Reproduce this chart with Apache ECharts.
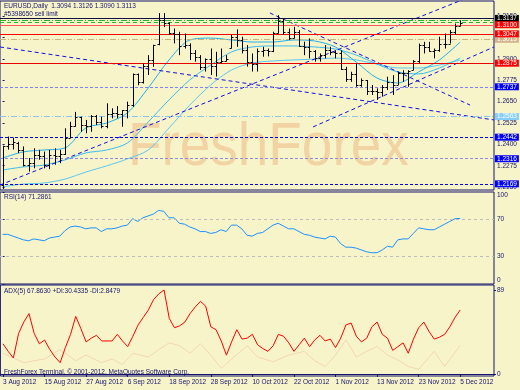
<!DOCTYPE html>
<html><head><meta charset="utf-8">
<script src="https://cdn.jsdelivr.net/npm/echarts@6/dist/echarts.min.js"></script>
<style>html,body{margin:0;padding:0;background:#f8f4c9}#c{width:520px;height:390px}</style>
</head><body><div id="c"></div><script>
// ---- dates (business days) ----
const augDays = [3,6,7,8,9,10,13,14,15,16,17,20,21,22,23,24,27,28,29,30,31];
const sepDays = [3,4,5,6,7,10,11,12,13,14,17,18,19,20,21,24,25,26,27,28];
const octDays = [1,2,3,4,5,8,9,10,11,12,15,16,17,18,19,22,23,24,25,26,29,30,31];
const novDays = [1,2,5,6,7,8,9,12,13,14,15,16,19,20,21,22,23,26,27,28,29,30];
const decDays = [3,4,5];
const emptySlots = 6;

// ---- OHLC ----
const opens = [1.2165,1.2388,1.2404,1.2408,1.2365,1.2282,1.2290,1.2335,1.2330,1.2280,1.2340,1.2330,1.2345,1.2440,1.2510,1.2560,1.2515,1.2510,1.2565,1.2530,
1.2510,1.2580,1.2585,1.2575,1.2600,1.2630,1.2810,1.2765,1.2860,1.2895,1.2985,1.3130,1.3110,1.3050,1.3045,1.2975,1.2980,1.2935,1.2910,1.2850,
1.2900,1.2860,1.2880,1.2890,1.2965,1.3030,1.3010,1.2955,1.2880,1.2870,1.2945,1.2950,1.2945,1.3050,1.3120,1.3060,1.3025,1.3060,1.2975,1.2970,
1.2945,1.2905,1.2925,1.2950,1.2940,1.2935,1.2840,1.2780,1.2810,1.2745,1.2775,1.2710,1.2715,1.2705,1.2735,1.2765,1.2750,1.2815,1.2820,1.2834,
1.2885,1.2980,1.2970,1.2945,1.2955,1.2985,1.2990,1.3060,1.3094];
const highs = [1.2392,1.2446,1.2440,1.2415,1.2388,1.2320,1.2377,1.2368,1.2358,1.2368,1.2377,1.2368,1.2494,1.2532,1.2590,1.2562,1.2543,1.2572,1.2572,1.2562,
1.2640,1.2611,1.2624,1.2601,1.2650,1.2815,1.2815,1.2873,1.2922,1.2983,1.3168,1.3168,1.3115,1.3078,1.3059,1.3049,1.2991,1.2952,1.2922,1.2903,
1.2961,1.2942,1.2961,1.2922,1.3040,1.3073,1.3030,1.2981,1.2932,1.2961,1.2971,1.2961,1.3059,1.3156,1.3136,1.3078,1.3088,1.3069,1.3001,1.3020,
1.2952,1.2932,1.2981,1.2971,1.2951,1.2951,1.2854,1.2825,1.2873,1.2786,1.2776,1.2747,1.2728,1.2747,1.2796,1.2805,1.2825,1.2834,1.2834,1.2893,
1.2990,1.3000,1.3000,1.2961,1.3030,1.3049,1.3069,1.3107,1.3126];
const lows = [1.2139,1.2369,1.2370,1.2349,1.2271,1.2241,1.2260,1.2310,1.2260,1.2255,1.2281,1.2290,1.2338,1.2436,1.2503,1.2474,1.2465,1.2474,1.2513,1.2494,
1.2494,1.2552,1.2552,1.2503,1.2552,1.2620,1.2746,1.2756,1.2806,1.2854,1.2980,1.3086,1.3040,1.2991,1.2922,1.2961,1.2893,1.2884,1.2835,1.2826,
1.2806,1.2797,1.2874,1.2885,1.2961,1.2971,1.2932,1.2855,1.2826,1.2826,1.2913,1.2915,1.2940,1.3049,1.3040,1.3011,1.3020,1.2971,1.2922,1.2903,
1.2884,1.2884,1.2903,1.2922,1.2903,1.2835,1.2766,1.2766,1.2737,1.2737,1.2689,1.2689,1.2660,1.2679,1.2718,1.2689,1.2747,1.2766,1.2737,1.2834,
1.2873,1.2932,1.2942,1.2903,1.2942,1.2961,1.2990,1.3040,1.3090];
const closes = [1.2388,1.2404,1.2411,1.2365,1.2282,1.2290,1.2335,1.2330,1.2280,1.2340,1.2330,1.2345,1.2440,1.2510,1.2560,1.2515,1.2510,1.2565,1.2530,1.2510,
1.2580,1.2585,1.2575,1.2600,1.2630,1.2810,1.2765,1.2860,1.2895,1.2980,1.3130,1.3110,1.3050,1.3045,1.2975,1.2980,1.2935,1.2910,1.2850,1.2900,
1.2860,1.2880,1.2890,1.2900,1.3030,1.3010,1.2955,1.2880,1.2870,1.2945,1.2950,1.2945,1.3050,1.3120,1.3060,1.3025,1.3060,1.2975,1.2970,1.2945,
1.2905,1.2925,1.2950,1.2940,1.2935,1.2840,1.2780,1.2810,1.2745,1.2775,1.2710,1.2715,1.2705,1.2735,1.2765,1.2750,1.2815,1.2820,1.2830,1.2885,
1.2980,1.2970,1.2945,1.2955,1.2985,1.2990,1.3060,1.3094,1.3113];

// ---- moving averages (read at every 4th bar) ----
const maIdx = [0,4,8,12,16,20,24,28,32,36,40,44,48,52,56,60,64,68,72,76,80,84,88];
const maFast = [1.2320,1.2356,1.2367,1.2379,1.2496,1.2525,1.2584,1.2730,1.2894,1.3011,1.3022,1.3011,1.2999,1.2999,1.3011,1.3005,1.2970,1.2882,1.2788,1.2759,1.2824,1.2894,1.2999];
const maMid = [1.2250,1.2268,1.2279,1.2309,1.2350,1.2367,1.2408,1.2531,1.2660,1.2777,1.2864,1.2941,1.2970,1.2976,1.2976,1.2970,1.2958,1.2923,1.2870,1.2824,1.2812,1.2847,1.2905];
const maSlow = [1.2151,1.2168,1.2174,1.2197,1.2238,1.2274,1.2315,1.2367,1.2496,1.2630,1.2747,1.2835,1.2876,1.2888,1.2894,1.2899,1.2905,1.2894,1.2870,1.2847,1.2847,1.2864,1.2894];

// ---- trend lines [barIndex, price] ----
const trendA = [[-0.5,1.2970],[94.5,1.2543]];
const trendB = [[-0.5,1.2162],[88.35,1.3245]];
const trendC = [[51.4,1.3169],[89.9,1.2630]];
const trendD = [[59.7,1.2502],[94.5,1.2970]];

// ---- horizontal levels ----
const orderLevel = 1.3137;
const greenLevels = [1.3124, 1.3112];
const redLevels = [1.3100, 1.3047, 1.2875];
const blueLevels = [1.2737, 1.2442, 1.2316, 1.2169];
const lightBlueLevels = [1.3090, 1.2563];
const tanLevels = [1.3015];
const priceTicks = [1.2150,1.2275,1.2400,1.2525,1.2650,1.2775,1.2900,1.3025,1.3150];

// ---- RSI(14) ----
const rsi = [54,54,52,50,48,47,49,48,47,50,51,52,58,62,63,62,60,61,61,57,
60,60,61,63,64,71,68,72,74,76,80,79,72,72,66,65,62,60,57,57,
55,56,59,57,64,64,60,53,52,55,56,60,64,66,63,60,60,57,54,53,
51,50,49,52,51,44,40,40,39,37,35,34,34,37,41,40,48,49,49,55,
61,60,59,59,62,65,68,71,71.29];
const rsiLevels = [70, 30];
const rsiTicks = [0,30,70,100];

// ---- ADX(5) ----
const adx = [32,24,17,43,55,64,43,32,36,26,18,12,28,42,61,48,34,38,41,35,
35,35,42,35,29,40,52,60,68,79,85,89,59,49,51,55,64,71,77,72,
50,47,35,20,34,47,37,38,42,31,27,24,30,42,40,33,24,31,38,29,
36,41,35,37,28,38,52,54,40,34,38,50,55,42,38,25,29,33,22,37,
49,55,45,37,39,42,50,60,67.86];
const diIdx = [0,4,8,11,14,16,19,21,23,25,28,30,32,34,36,38,40,42,44,47,49,52,55,58,60,62,64,66,68,70,72,74,76,78,80,83,85,88];
const diPlus = [22,12,16,26,14,20,12,16,10,22,18,26,33,30,22,32,20,6,16,30,18,13,20,24,14,8,20,36,18,24,29,20,15,8,5,24,8,30.43];
const adxTicks = [0, 89];

// ---- texts ----
const titleText = 'EURUSD,Daily  1.3094 1.3126 1.3090 1.3113';
const orderText = '#5398650 sell limit';
const rsiText = 'RSI(14) 71.2861';
const adxText = 'ADX(5) 67.8630 +DI:30.4335 -DI:2.8479';
const footerText = 'FreshForex Terminal, \u00a9 2001-2012, MetaQuotes Software Corp.';
const watermark = 'FreshForex';

// build categories
const mk = (days, m) => days.map(d => d + ' ' + m + ' 2012');
const dates = [].concat(mk(augDays,'Aug'), mk(sepDays,'Sep'), mk(octDays,'Oct'), mk(novDays,'Nov'), mk(decDays,'Dec'));
const categories = dates.concat(new Array(emptySlots).fill(''));
const NB = dates.length;

const navy = '#14146e';
const FF = '"Liberation Sans", Arial, sans-serif';
const FS = 6.5;

const ohlcData = opens.map((o, i) => [i, o, highs[i], lows[i], closes[i]]);
const pair = (idx, vals) => idx.map((x, k) => [x, vals[k]]);

function lvl(v, line, lab) {
  const item = { yAxis: v, lineStyle: line };
  if (lab) {
    item.label = { show: true, position: 'end', distance: 1, formatter: p => Number(p.value).toFixed(4),
      backgroundColor: lab.bg, color: lab.fg || '#fff', fontSize: FS, fontFamily: FF, lineHeight: 7, padding: [0, 2, 0, 2] };
  } else {
    item.label = { show: false };
  }
  return item;
}
const dashDot = [6, 2, 1, 2];
const levelItems = [
  lvl(lightBlueLevels[0], { opacity: 0 }, { bg: '#87cefa' }),
  lvl(tanLevels[0], { color: '#c9b37e', type: dashDot, width: 1 }, { bg: '#d2b48c' }),
  lvl(greenLevels[0], { color: '#2fb52f', type: dashDot, width: 1 }),
  lvl(greenLevels[1], { color: '#2fb52f', type: [4, 3], width: 1 }),
  lvl(orderLevel, { color: '#101040', type: 'solid', width: 1 }, { bg: '#000000' }),
  lvl(redLevels[0], { color: '#ff5a5a', type: 'solid', width: 1 }, { bg: '#ff0000' }),
  lvl(redLevels[1], { color: '#ff0000', type: 'solid', width: 1 }, { bg: '#ff0000' }),
  lvl(redLevels[2], { color: '#e80000', type: 'solid', width: 1 }, { bg: '#ff0000' }),
  lvl(blueLevels[0], { color: '#8080ff', type: [3, 2], width: 1 }, { bg: '#0000ff' }),
  lvl(lightBlueLevels[1], { color: '#8cc4f0', type: dashDot, width: 1 }, { bg: '#87cefa' }),
  lvl(blueLevels[1], { color: '#0000ff', type: [3, 2], width: 1 }, { bg: '#0000ff' }),
  lvl(blueLevels[2], { color: '#8c8cdc', type: [3, 2], width: 1 }, { bg: '#0000ff' }),
  lvl(blueLevels[3], { color: '#0000ff', type: [3, 2], width: 1 }, { bg: '#0000ff' })
];

const chart = echarts.init(document.getElementById('c'), null, { renderer: 'canvas' });
const trendStyle = { color: '#1010e0', type: [4, 3], width: 1 };
const maLine = (name, vals, color) => ({
  name, type: 'line', xAxisIndex: 0, yAxisIndex: 0, data: pair(maIdx, vals), showSymbol: false, symbol: 'none',
  smooth: 0.3, lineStyle: { color, width: 1 }, z: 3, silent: true
});
const trendLine = (name, d) => ({
  name, type: 'line', xAxisIndex: 0, yAxisIndex: 0, data: d, showSymbol: false, symbol: 'none',
  lineStyle: trendStyle, z: 3, silent: true
});

chart.setOption({
  animation: false,
  backgroundColor: '#f8f4c9',
  grid: [
    { left: 0, top: 1, width: 494, height: 189, show: true, borderColor: navy, borderWidth: 1, backgroundColor: 'transparent' },
    { left: 0, top: 192, width: 494, height: 92, show: true, borderColor: navy, borderWidth: 1, backgroundColor: 'transparent' },
    { left: 0, top: 285, width: 494, height: 91, show: true, borderColor: navy, borderWidth: 1, backgroundColor: 'transparent' }
  ],
  xAxis: [
    { gridIndex: 0, type: 'value', min: -0.5, max: 94.5, show: false },
    { gridIndex: 1, type: 'value', min: -0.5, max: 94.5, show: false },
    { gridIndex: 2, type: 'category', data: categories, boundaryGap: true,
      axisLine: { show: true, lineStyle: { color: navy } },
      axisTick: { show: true, alignWithLabel: true, length: 3, interval: i => i % 8 === 0 && i < NB, lineStyle: { color: navy } },
      axisLabel: { show: true, interval: i => i % 8 === 0 && i < NB, align: 'left', margin: 3, fontSize: FS, fontFamily: FF, color: navy },
      splitLine: { show: false } }
  ],
  yAxis: [
    { gridIndex: 0, type: 'value', position: 'right', min: 1.2133, max: 1.3239, splitLine: { show: false },
      axisLine: { show: false },
      axisTick: { show: true, length: 2, customValues: priceTicks, lineStyle: { color: navy } },
      axisLabel: { customValues: priceTicks, formatter: v => v.toFixed(4), fontSize: FS, fontFamily: FF, color: navy, margin: 3 } },
    { gridIndex: 1, type: 'value', position: 'right', min: 0, max: 100, splitLine: { show: false }, axisLine: { show: false },
      axisTick: { show: true, length: 2, customValues: rsiTicks, lineStyle: { color: navy } },
      axisLabel: { customValues: rsiTicks, fontSize: FS, fontFamily: FF, color: navy, margin: 3,
        verticalAlignMaxLabel: 'top', verticalAlignMinLabel: 'bottom' } },
    { gridIndex: 2, type: 'value', position: 'right', min: -2.12, max: 94.3, splitLine: { show: false }, axisLine: { show: false },
      axisTick: { show: true, length: 2, customValues: adxTicks, lineStyle: { color: navy } },
      axisLabel: { customValues: adxTicks, fontSize: FS, fontFamily: FF, color: navy, margin: 3 } }
  ],
  graphic: [
    { type: 'text', x: 128, y: 148, scaleX: 0.9, z: 1, silent: true,
      style: { text: watermark, font: '61px ' + FF, fill: '#f2d3a3', verticalAlign: 'middle', align: 'left' } },
    { type: 'text', left: 4, top: 2.5, z: 10, style: { text: titleText, font: FS + 'px ' + FF, fill: navy } },
    { type: 'text', left: 4, top: 11, z: 10, style: { text: orderText, font: FS + 'px ' + FF, fill: navy } },
    { type: 'text', left: 4, top: 193.5, z: 10, style: { text: rsiText, font: FS + 'px ' + FF, fill: navy } },
    { type: 'text', left: 4, top: 288, z: 10, style: { text: adxText, font: FS + 'px ' + FF, fill: navy } },
    { type: 'text', left: 4, top: 368.5, z: 10, style: { text: footerText, font: FS + 'px ' + FF, fill: navy } }
  ],
  series: [
    maLine('MA slow', maSlow, '#5cc8f2'),
    maLine('MA mid', maMid, '#3cbcf0'),
    maLine('MA fast', maFast, '#1eb0ee'),
    trendLine('T1', trendA), trendLine('T2', trendB), trendLine('T3', trendC), trendLine('T4', trendD),
    {
      name: 'levels', type: 'line', xAxisIndex: 0, yAxisIndex: 0, data: [[0, null]], showSymbol: false, z: 4, silent: true,
      markLine: { silent: true, precision: 4, symbol: ['none', 'none'], animation: false, data: levelItems }
    },
    {
      name: 'EURUSD', type: 'custom', xAxisIndex: 0, yAxisIndex: 0, data: ohlcData, z: 5, clip: true,
      encode: { x: 0, y: [1, 2, 3, 4] },
      renderItem: function (params, api) {
        const i = api.value(0);
        const h = api.coord([i, api.value(2)]);
        const l = api.coord([i, api.value(3)]);
        const o = api.coord([i, api.value(1)]);
        const c = api.coord([i, api.value(4)]);
        const x = Math.round(h[0]) + 0.5;
        const st = { stroke: '#000', lineWidth: 1 };
        return { type: 'group', children: [
          { type: 'line', shape: { x1: x, y1: h[1], x2: x, y2: l[1] }, style: st },
          { type: 'line', shape: { x1: x - 2, y1: Math.round(o[1]) + 0.5, x2: x, y2: Math.round(o[1]) + 0.5 }, style: st },
          { type: 'line', shape: { x1: x, y1: Math.round(c[1]) + 0.5, x2: x + 2, y2: Math.round(c[1]) + 0.5 }, style: st }
        ] };
      }
    },
    {
      name: 'RSI', type: 'line', xAxisIndex: 1, yAxisIndex: 1, data: rsi.map((v, i) => [i, v]), showSymbol: false, symbol: 'none',
      lineStyle: { color: '#1e90ff', width: 1 }, z: 3, silent: true,
      markLine: { silent: true, symbol: ['none', 'none'], label: { show: false },
        lineStyle: { color: '#bdbdbd', type: [3, 3], width: 1 }, data: rsiLevels.map(v => ({ yAxis: v })) }
    },
    {
      name: '+DI', type: 'line', xAxisIndex: 2, yAxisIndex: 2, data: pair(diIdx, diPlus), showSymbol: false, symbol: 'none',
      lineStyle: { color: '#f4d6b4', width: 1 }, z: 2, silent: true
    },
    {
      name: 'ADX', type: 'line', xAxisIndex: 2, yAxisIndex: 2, data: adx, showSymbol: false, symbol: 'none',
      lineStyle: { color: '#ff0000', width: 1 }, z: 3, silent: true
    }
  ]
});
</script></body></html>
